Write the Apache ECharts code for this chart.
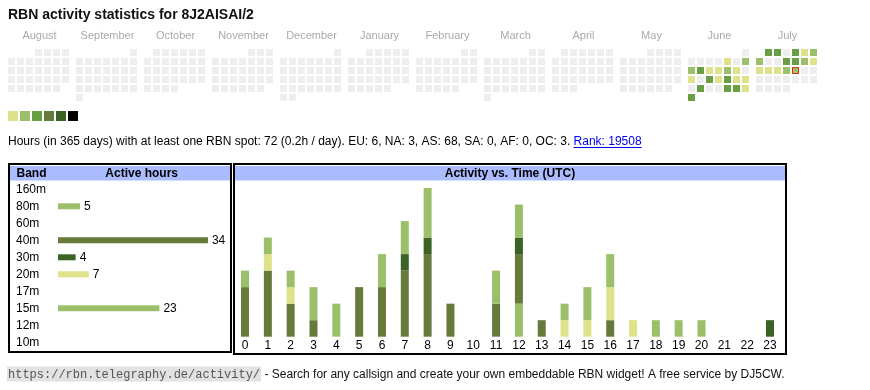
<!DOCTYPE html>
<html><head><meta charset="utf-8">
<script src="https://cdn.jsdelivr.net/npm/echarts@6/dist/echarts.min.js"></script>
<style>html,body{margin:0;padding:0;background:#fff}#c{width:870px;height:390px}</style>
</head><body><div id="c"></div>
<script>
// ---------------- data ----------------
const titleText = 'RBN activity statistics for 8J2AISAI/2';
const months = ['2024-08','2024-09','2024-10','2024-11','2024-12','2025-01','2025-02','2025-03','2025-04','2025-05','2025-06','2025-07'];
const monthNames = ['August','September','October','November','December','January','February','March','April','May','June','July'];
// active days: [date, hours]
const activeDays = [
  ['2025-06-06',1],['2025-06-08',2],['2025-06-09',2],['2025-06-10',3],['2025-06-11',1],['2025-06-12',1],
  ['2025-06-13',2],['2025-06-14',1],['2025-06-16',1],['2025-06-18',4],['2025-06-19',1],['2025-06-20',3],
  ['2025-06-21',1],['2025-06-22',1],['2025-06-24',3],['2025-06-27',4],['2025-06-28',3],['2025-06-29',1],
  ['2025-06-30',4],
  ['2025-07-01',4],['2025-07-02',3],['2025-07-04',4],['2025-07-05',1],['2025-07-06',2],['2025-07-07',2],
  ['2025-07-10',3],['2025-07-11',4],['2025-07-12',2],['2025-07-13',1],['2025-07-14',1],['2025-07-15',1],
  ['2025-07-16',1],['2025-07-17',2],['2025-07-18',2]
];
const today = '2025-07-18';
const levelMins = [1, 2, 3, 6, 10, 16];
const levelMaxs = [1, 2, 5, 9, 15, Infinity];
const levelColors = ['#dde28b','#9cc06a','#6a9e45','#667a3c','#3a6325','#000000'];

const bands = ['160m','80m','60m','40m','30m','20m','17m','15m','12m','10m'];
const bandHours = [0, 5, 0, 34, 4, 7, 0, 23, 0, 0];
const bandColors = {'160m':'#dde28b','80m':'#9cc06a','60m':'#6a9e45','40m':'#667a3c','30m':'#3a6325','20m':'#dde28b','17m':'#6a9e45','15m':'#9cc06a','12m':'#667a3c','10m':'#3a6325'};

const hourLabels = ['0','1','2','3','4','5','6','7','8','9','10','11','12','13','14','15','16','17','18','19','20','21','22','23'];
const hourly80 = [0,0,0,0,0,0,0,0,0,0,0,0,2,0,0,0,0,0,1,1,1,0,0,0];
const hourly40 = [3,4,2,1,0,3,3,4,5,2,0,2,3,1,0,0,1,0,0,0,0,0,0,0];
const hourly30 = [0,0,0,0,0,0,0,1,1,0,0,0,1,0,0,0,0,0,0,0,0,0,0,1];
const hourly20 = [0,1,1,0,0,0,0,0,0,0,0,0,0,0,1,1,2,1,0,0,0,0,0,0];
const hourly15 = [1,1,1,2,2,0,2,2,3,0,0,2,2,0,1,2,2,0,0,0,0,0,0,0];
const hourlyBands = ['80m','40m','30m','20m','15m'];
const hourlyData = [hourly80, hourly40, hourly30, hourly20, hourly15];

const statsText = 'Hours (in 365 days) with at least one RBN spot: 72 (0.2h / day). EU: 6, NA: 3, AS: 68, SA: 0, AF: 0, OC: 3. ';
const rankText = 'Rank: 19508';
const footerUrl = 'https://rbn.telegraphy.de/activity/';
const footerText = ' - Search for any callsign and create your own embeddable RBN widget! A free service by DJ5CW.';

// ---------------- layout ----------------
const SANS = '"Liberation Sans", Arial, sans-serif';
const MONO = '"Liberation Mono", "Courier New", monospace';
const FS = 12;
const calLeft0 = 7, calPitch = 68, calTop = 48, cell = 9;

const chart = echarts.init(document.getElementById('c'), null, {renderer: 'canvas'});

const mctx = document.createElement('canvas').getContext('2d');
function measure(t, font) { mctx.font = font; return mctx.measureText(t).width; }

const calendars = months.map((m, i) => ({
  orient: 'vertical', range: m, left: calLeft0 + i * calPitch, top: calTop,
  cellSize: [cell, cell],
  splitLine: {show: false},
  dayLabel: {show: false, firstDay: 1}, monthLabel: {show: false}, yearLabel: {show: false},
  itemStyle: {color: '#eeeeee', borderColor: '#ffffff', borderWidth: 2}
}));

const series = [];
const heatIdx = [];
months.forEach((m, i) => {
  heatIdx.push(series.length);
  series.push({
    type: 'heatmap', coordinateSystem: 'calendar', calendarIndex: i,
    data: activeDays.filter(d => d[0].slice(0, 7) === m),
    itemStyle: {borderWidth: 0},
    emphasis: {disabled: true}, silent: true
  });
});
series.push({
  type: 'scatter', coordinateSystem: 'calendar', calendarIndex: months.indexOf(today.slice(0, 7)),
  data: [[today, 1]], symbol: 'rect', symbolSize: 6, z: 10, silent: true,
  itemStyle: {color: 'rgba(0,0,0,0)', borderColor: '#ff0000', borderWidth: 1}
});

// band table bars
series.push({
  type: 'bar', xAxisIndex: 0, yAxisIndex: 0, barWidth: 6, silent: true,
  data: bandHours.map((v, i) => ({value: v, itemStyle: {color: bandColors[bands[i]]}})),
  label: {show: true, position: 'right', distance: 4, color: '#000', fontFamily: SANS, fontSize: FS,
          formatter: p => p.value ? String(p.value) : ''}
});

// activity vs time stacked bars
hourlyBands.forEach((b, k) => {
  series.push({
    type: 'bar', xAxisIndex: 1, yAxisIndex: 1, stack: 'hours', barWidth: 8, silent: true,
    name: b, data: hourlyData[k], itemStyle: {color: bandColors[b]}
  });
});

const statsFont = FS + 'px ' + SANS;
const statsW = measure(statsText, statsFont);
const rankW = measure(rankText, statsFont);
const urlFont = '12px ' + MONO;
const urlW = measure(footerUrl, urlFont);

function txt(x, y, text, font, fill, align) {
  return {type: 'text', x: x, y: y, silent: true, z: 50,
    style: {text: text, font: font, fill: fill, align: align || 'left', textAlign: align || 'left',
            verticalAlign: 'middle', textVerticalAlign: 'middle'}};
}

const graphics = [
  txt(8, 15.5, titleText, 'bold 14px ' + SANS, '#111'),
  ...monthNames.map((n, i) => txt(calLeft0 + i * calPitch + 32.5, 35.5, n, '11px ' + SANS, '#aaaaaa', 'center')),
  txt(8, 142, statsText, statsFont, '#000'),
  txt(8 + statsW, 142, rankText, statsFont, '#0000ee'),
  {type: 'line', silent: true, z: 50, shape: {x1: 8 + statsW, y1: 147.5, x2: 8 + statsW + rankW, y2: 147.5},
   style: {stroke: '#0000ee', lineWidth: 1}},
  // boxes
  {type: 'rect', silent: true, z: 1, shape: {x: 10, y: 166, width: 221, height: 14.5}, style: {fill: '#aabbff'}},
  {type: 'rect', silent: true, z: 1, shape: {x: 235, y: 166, width: 550, height: 14.5}, style: {fill: '#aabbff'}},
  {type: 'rect', silent: true, z: 40, shape: {x: 9, y: 164, width: 222, height: 188}, style: {fill: null, stroke: '#000', lineWidth: 2}},
  {type: 'rect', silent: true, z: 40, shape: {x: 234, y: 164, width: 552, height: 190}, style: {fill: null, stroke: '#000', lineWidth: 2}},
  txt(16.5, 173.5, 'Band', 'bold ' + FS + 'px ' + SANS, '#000'),
  txt(141.7, 173.5, 'Active hours', 'bold ' + FS + 'px ' + SANS, '#000', 'center'),
  txt(510, 173.5, 'Activity vs. Time (UTC)', 'bold ' + FS + 'px ' + SANS, '#000', 'center'),
  // footer
  {type: 'rect', silent: true, z: 1, shape: {x: 7, y: 366.5, width: urlW + 2, height: 15}, style: {fill: '#e2e2e2'}},
  txt(8, 374.5, footerUrl, urlFont, '#555'),
  txt(8 + urlW + 1, 374.5, footerText, FS + 'px ' + SANS, '#111')
];

const option = {
  animation: false,
  backgroundColor: '#fff',
  calendar: calendars,
  visualMap: {
    type: 'piecewise', seriesIndex: heatIdx, orient: 'horizontal', left: 8, top: 111,
    itemWidth: 10, itemHeight: 10, itemGap: 2, padding: 0, showLabel: false, itemSymbol: 'rect',
    hoverLink: false, selectedMode: false,
    pieces: levelColors.map((c, i) => levelMaxs[i] === Infinity ? {min: levelMins[i], color: c, label: ''} : {min: levelMins[i], max: levelMaxs[i], color: c, label: ''})
  },
  grid: [
    {left: 58, top: 180.8, width: 176.4, height: 170},
    {left: 233.6, top: 171.5, width: 547.8, height: 165.2}
  ],
  xAxis: [
    {gridIndex: 0, type: 'value', min: 0, max: 40, show: false},
    {gridIndex: 1, type: 'category', data: hourLabels, axisLine: {show: false}, axisTick: {show: false},
     axisLabel: {interval: 0, margin: 3, color: '#000', fontFamily: SANS, fontSize: FS}}
  ],
  yAxis: [
    {gridIndex: 0, type: 'category', data: bands, inverse: true, axisLine: {show: false}, axisTick: {show: false},
     axisLabel: {margin: 42, align: 'left', color: '#000', fontFamily: SANS, fontSize: FS}},
    {gridIndex: 1, type: 'value', min: 0, max: 10, show: false, splitLine: {show: false}}
  ],
  series: series,
  graphic: graphics
};
chart.setOption(option);
</script></body></html>
